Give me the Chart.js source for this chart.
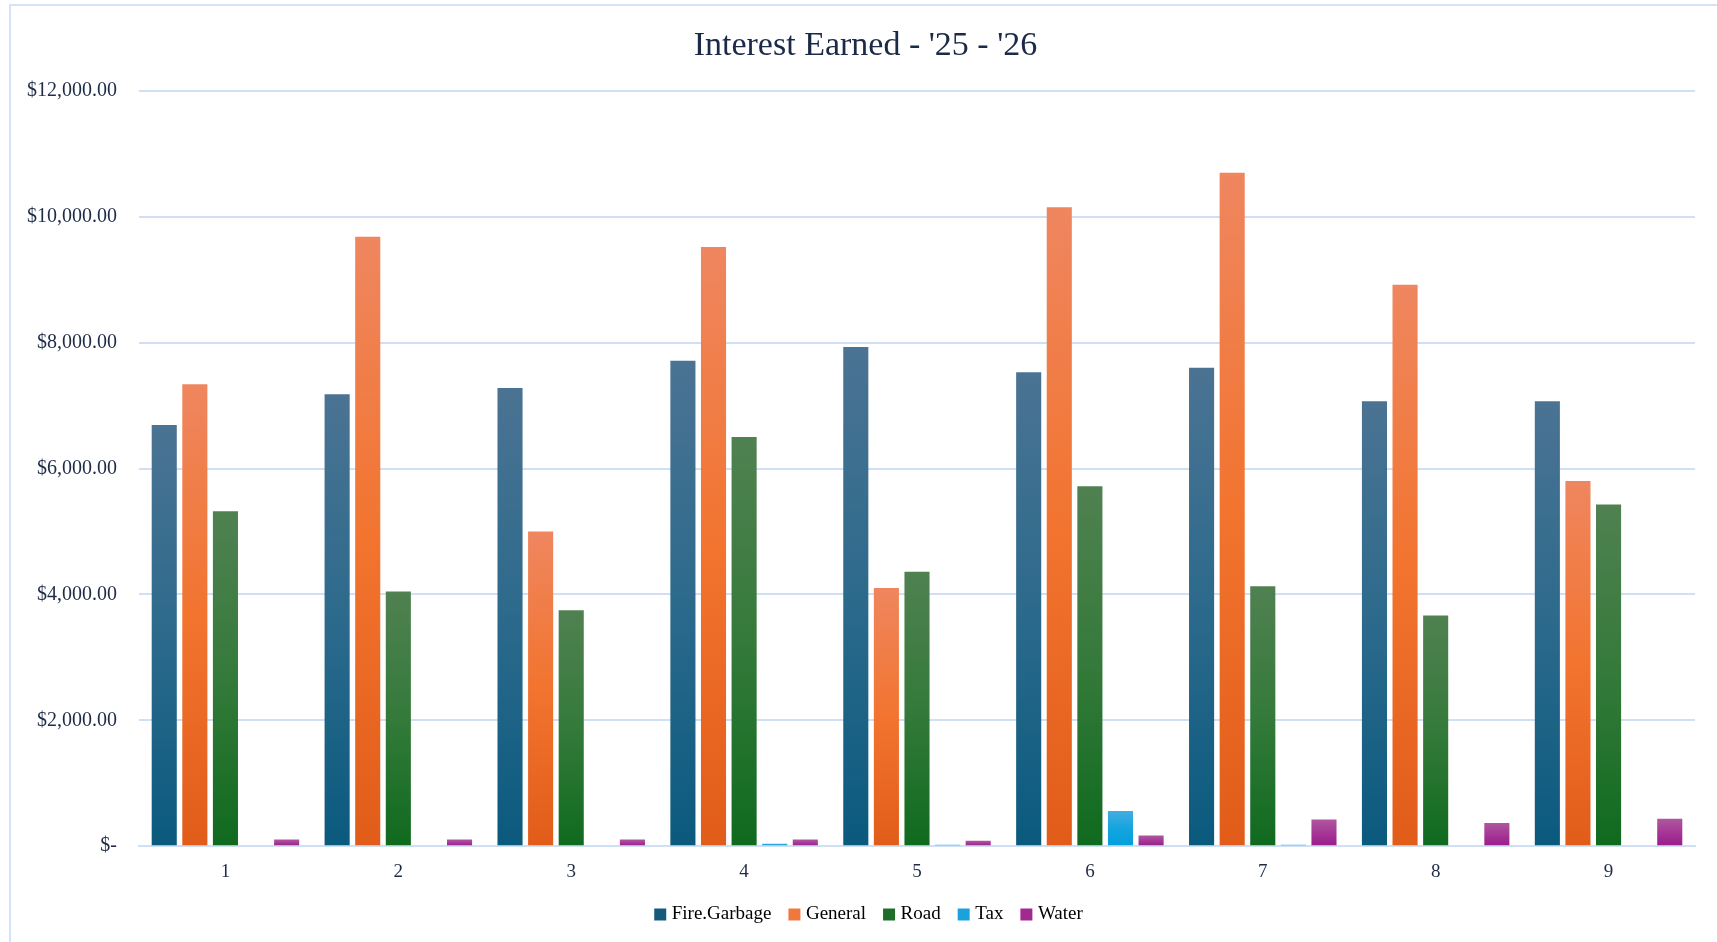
<!DOCTYPE html>
<html>
<head>
<meta charset="utf-8">
<script src="https://cdn.jsdelivr.net/npm/chart.js@4.4.1/dist/chart.umd.min.js"></script>
<style>
  html, body { margin: 0; padding: 0; background: #fff; }
  #wrap { width: 1717px; height: 942px; position: relative; }
</style>
</head>
<body>
<div id="wrap"><canvas id="interestChart"></canvas></div>
<script>
// Dati (mesi 1-9)
const months = ["1", "2", "3", "4", "5", "6", "7", "8", "9"];
const fireGarbage = [6690, 7180, 7280, 7710, 7930, 7530, 7600, 7070, 7070];
const general = [7340, 9680, 5000, 9520, 4100, 10150, 10700, 8920, 5800];
const road = [5320, 4045, 3750, 6500, 4360, 5720, 4130, 3665, 5430];
const tax = [0, 0, 0, 40, 25, 560, 25, 0, 0];
const water = [105, 105, 105, 105, 85, 170, 425, 370, 435];
const yTicks = [0, 2000, 4000, 6000, 8000, 10000, 12000];

const textColor = "#1f2c48";
const gridColor = "#cfe0f4";
const serif = "'Liberation Serif', 'Times New Roman', serif";

// gradiente verticale per ogni barra: chiaro in alto, pieno in basso
function barGradient(stops) {
  return (ctx) => {
    const chart = ctx.chart;
    const y = chart.scales.y;
    if (!chart.chartArea || !y || !ctx.raw) return stops[stops.length - 1];
    const top = y.getPixelForValue(ctx.raw);
    const base = y.getPixelForValue(0);
    if (base - top < 1) return stops[stops.length - 1];
    const g = chart.ctx.createLinearGradient(0, top, 0, base);
    stops.forEach((c, i) => g.addColorStop(i / (stops.length - 1), c));
    return g;
  };
}

const palette = {
  fire: ["#4b7393", "#2c6a8c", "#0a5a7e"],
  general: ["#ef865f", "#f2742f", "#e15c19"],
  road: ["#508151", "#347a3a", "#0f6a1e"],
  tax: ["#42ade2", "#16a4df", "#00a0dc"],
  water: ["#b0579f", "#a53796", "#9a1b8b"],
};
const legendColors = ["#15597c", "#f0783c", "#1e6d2b", "#1aa2dd", "#a2298f"];

// bordo azzurro attorno all'area del grafico
const frameBorder = {
  id: "frameBorder",
  beforeDraw(chart) {
    const c = chart.ctx;
    c.save();
    c.strokeStyle = "#d5e4f5";
    c.lineWidth = 2;
    c.beginPath();
    c.moveTo(10, chart.height);
    c.lineTo(10, 5);
    c.lineTo(chart.width, 5);
    c.stroke();
    c.restore();
  },
};

// titolo e legenda un po' spostati a destra come nell'originale
const shiftBlocks = {
  id: "shiftBlocks",
  afterLayout(chart) {
    if (chart.titleBlock) {
      chart.titleBlock.left += 18;
      chart.titleBlock.right += 18;
    }
    if (chart.legend) {
      chart.legend.left += 23;
      chart.legend.right += 23;
    }
  },
};

const ds = (label, data, stops) => ({
  label: label,
  data: data,
  backgroundColor: barGradient(stops),
  borderWidth: 0,
  categoryPercentage: 0.885,
  barPercentage: 0.82,
});

new Chart(document.getElementById("interestChart"), {
  type: "bar",
  data: {
    labels: months,
    datasets: [
      ds("Fire.Garbage", fireGarbage, palette.fire),
      ds("General", general, palette.general),
      ds("Road", road, palette.road),
      ds("Tax", tax, palette.tax),
      ds("Water", water, palette.water),
    ],
  },
  options: {
    responsive: true,
    maintainAspectRatio: false,
    animation: false,
    layout: { padding: { left: 0, right: 22, top: 0, bottom: 8 } },
    scales: {
      x: {
        z: 1,
        grid: { display: false, drawTicks: false },
        border: { display: true, color: gridColor, width: 2 },
        afterFit: (scale) => { scale.height -= 13; },
        ticks: { color: textColor, padding: 14, font: { family: serif, size: 19 } },
      },
      y: {
        min: 0,
        max: 12000,
        afterFit: (scale) => { scale.width = 139; },
        afterBuildTicks: (scale) => {
          scale.ticks = yTicks.map((v) => ({ value: v }));
        },
        grid: { color: gridColor, lineWidth: 2, drawTicks: false },
        border: { display: false },
        ticks: {
          color: textColor,
          padding: 22,
          font: { family: serif, size: 20 },
          callback: (v) =>
            v === 0
              ? "$-"
              : "$" + Number(v).toLocaleString("en-US", { minimumFractionDigits: 2, maximumFractionDigits: 2 }),
        },
      },
    },
    plugins: {
      title: {
        display: true,
        text: "Interest Earned - '25 - '26",
        color: "#1b2a47",
        font: { family: serif, size: 34, weight: "normal" },
        padding: { top: 26, bottom: 24 },
      },
      legend: {
        position: "bottom",
        labels: {
          color: textColor,
          font: { family: serif, size: 19 },
          usePointStyle: true,
          pointStyle: "rect",
          boxWidth: 4,
          boxHeight: 12,
          padding: 21,
          generateLabels: (chart) =>
            chart.data.datasets.map((d, i) => ({
              text: d.label,
              fillStyle: legendColors[i],
              strokeStyle: legendColors[i],
              lineWidth: 0,
              pointStyle: "rect",
              hidden: false,
              datasetIndex: i,
            })),
        },
      },
      tooltip: { enabled: false },
    },
  },
  plugins: [frameBorder, shiftBlocks],
});
</script>
</body>
</html>
